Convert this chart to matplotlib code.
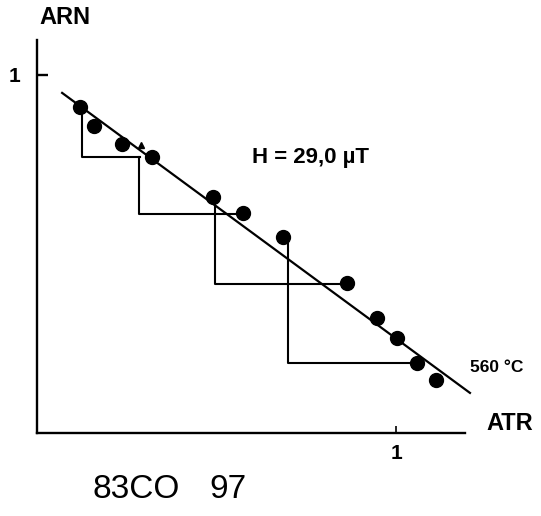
import numpy as np
import matplotlib.pyplot as plt

plt.rcParams['font.family'] = ['Liberation Sans', 'DejaVu Sans']

# Arai diagram points (ATR, ARN), normalised
atr = [0.120, 0.159, 0.237, 0.320, 0.490, 0.574, 0.685, 0.864, 0.947, 1.003, 1.059, 1.111]
arn = [0.911, 0.858, 0.807, 0.771, 0.659, 0.615, 0.548, 0.419, 0.321, 0.265, 0.196, 0.148]

# best fit line end points
fit_x = [0.070, 1.206]
fit_y = [0.950, 0.112]

# pTRM checks: vertical drop at check_x from check_top to check_bot, then across to check_end
check_x = [0.125, 0.284, 0.496, 0.699]
check_top = [0.911, 0.771, 0.659, 0.548]
check_bot = [0.771, 0.612, 0.416, 0.196]
check_end = [0.287, 0.574, 0.864, 1.059]

tri_x = [0.291]
tri_y = [0.805]

W, H = 541, 516
fig = plt.figure(figsize=(W / 100, H / 100), dpi=100)
x0, y0 = 37, 433
ax = fig.add_axes([x0 / W, (H - y0) / H, (465 - x0) / W, (y0 - 40) / H])
ax.set_xlim(0, (465 - x0) / 359)
ax.set_ylim(0, (y0 - 40) / 358)
for s in ['top', 'right']:
    ax.spines[s].set_visible(False)
for s in ['left', 'bottom']:
    ax.spines[s].set_linewidth(1.7)

ax.set_xticks([1])
ax.set_yticks([1])
ax.set_xticklabels(['1'], fontweight='bold')
ax.set_yticklabels(['1'], fontweight='bold')
ax.tick_params(axis='x', direction='in', length=5, width=1.2, pad=8, labelsize=15)
ax.tick_params(axis='y', direction='in', length=8, width=1.7, pad=12, labelsize=15)

ax.plot(fit_x, fit_y, color='black', lw=1.6, clip_on=False)
for cx, ct, cb, ce in zip(check_x, check_top, check_bot, check_end):
    ax.plot([cx, cx, ce], [ct, cb, cb], color='black', lw=1.5, clip_on=False)
ax.plot(atr, arn, 'o', color='black', markersize=10, clip_on=False)
ax.plot(tri_x, tri_y, '^', color='black', markersize=5, clip_on=False)

fig.text(65 / W, 1 - 18 / H, 'ARN', fontsize=17, fontweight='bold', ha='center', va='center')
fig.text(510 / W, 1 - 424 / H, 'ATR', fontsize=17, fontweight='bold', ha='center', va='center')
fig.text(311 / W, 1 - 157 / H, 'H = 29,0 µT', fontsize=16, fontweight='bold', ha='center', va='center')
fig.text(497 / W, 1 - 368 / H, '560 °C', fontsize=12.5, fontweight='bold', ha='center', va='center')
fig.text(92 / W, 1 - 489 / H, '83CO', fontsize=24, ha='left', va='center')
fig.text(209 / W, 1 - 489 / H, '97', fontsize=24, ha='left', va='center')

fig.savefig('out.png', dpi=100)
